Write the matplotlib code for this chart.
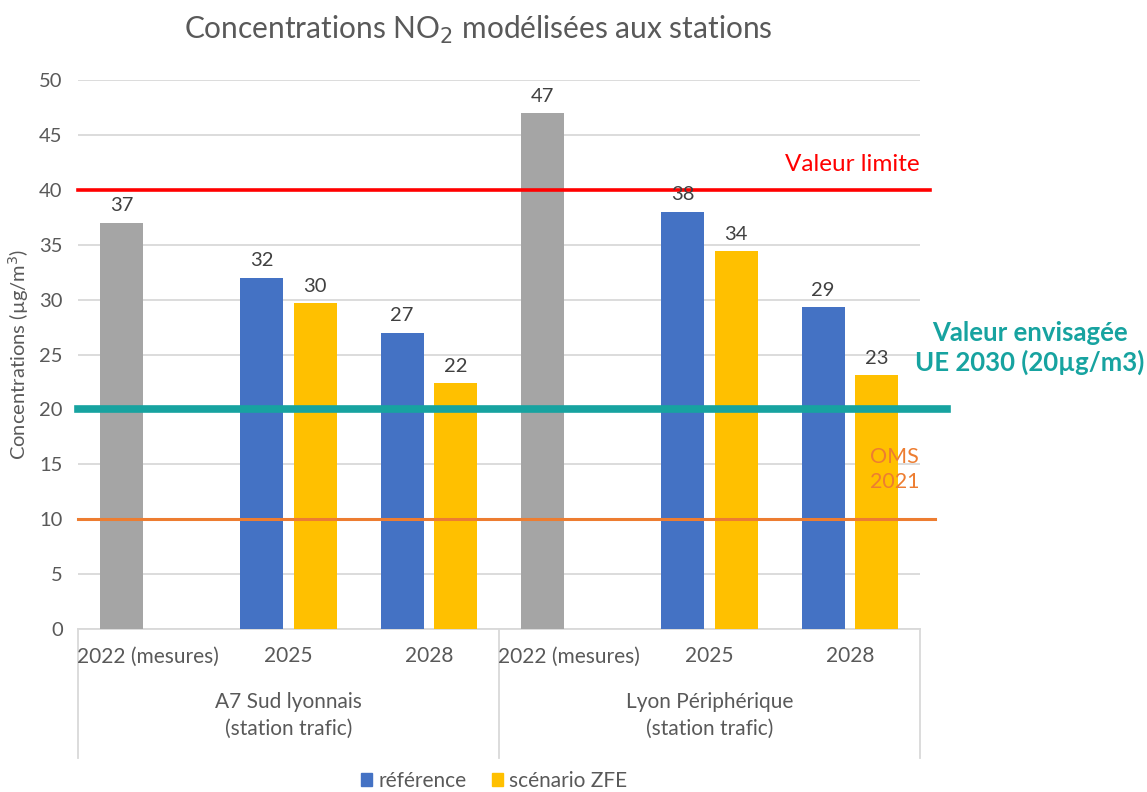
import matplotlib
matplotlib.use("Agg")
from matplotlib import pyplot as plt
from matplotlib.patches import Patch
import matplotlib.transforms as mtransforms
import numpy as np

plt.rcParams["font.family"] = ["Lato", "DejaVu Sans"]

# Category axis: years inside each station group
years = ["2022 (mesures)", "2025", "2028", "2022 (mesures)", "2025", "2028"]
stations = ["A7 Sud lyonnais\n(station trafic)", "Lyon Périphérique\n(station trafic)"]

# Reference series (the 2022 points are measurements, drawn in grey)
reference = [37, 32, 27, 47, 38, 29.3]
# ZFE scenario, no value for the measured years
scenario_zfe = [np.nan, 29.7, 22.4, np.nan, 34.4, 23.1]
measured = [True, False, False, True, False, False]

# Threshold lines
limit_value = 40
eu_2030 = 20
who_2021 = 10

BLUE = "#4472C4"
YELLOW = "#FFC000"
GREY = "#A5A5A5"
TEXT = "#595959"
RED = "#FF0000"
TEAL = "#17A3A0"
ORANGE = "#ED7D31"

W, H = 1147, 792
fig = plt.figure(figsize=(W / 100, H / 100), dpi=100)
ax = fig.add_axes([78 / W, (H - 629) / H, (920 - 78) / W, (629 - 80) / H])

x = np.arange(len(years))
width = 0.305
off = 0.19

ref_colors = [GREY if m else BLUE for m in measured]
b1 = ax.bar(x - off, reference, width, color=ref_colors, zorder=3)
b2 = ax.bar(x + off, scenario_zfe, width, color=YELLOW, zorder=3)

for bars, vals in ((b1, reference), (b2, scenario_zfe)):
    for rect, v in zip(bars, vals):
        if np.isnan(v):
            continue
        ax.annotate(f"{v:.0f}", (rect.get_x() + rect.get_width() / 2, v),
                    xytext=(0, 6), textcoords="offset points",
                    ha="center", va="bottom", fontsize=14.5, color="#404040",
                    zorder=5)

ax.set_xlim(-0.5, len(years) - 0.5)
ax.set_ylim(0, 50)
ax.set_yticks(np.arange(0, 51, 5))
ax.yaxis.grid(True, color="#D9D9D9", linewidth=1.3, zorder=0)
ax.tick_params(axis="y", length=0, labelsize=14.5, labelcolor=TEXT, pad=11)
ax.set_xticks([])
for s in ("top", "right", "left"):
    ax.spines[s].set_visible(False)
ax.spines["bottom"].set_color("#D9D9D9")
ax.spines["bottom"].set_linewidth(1.3)

ax.set_ylabel("Concentrations (µg/m$^3$)", fontsize=14.5, color=TEXT,
              labelpad=6)

# Horizontal thresholds, running a little past the plot area
px = 1 / 140.3
ax.plot([-0.5, 5.5 + 10 * px], [limit_value] * 2, color=RED, lw=2.6,
        clip_on=False, zorder=4)
ax.plot([-0.5, 5.5 + 27 * px], [eu_2030] * 2, color=TEAL, lw=5.5,
        clip_on=False, zorder=4)
ax.plot([-0.5, 5.5 + 15 * px], [who_2021] * 2, color=ORANGE, lw=2.2,
        clip_on=False, zorder=4)

ax.text(5.5, 42.3, "Valeur limite", color=RED, fontsize=17.5, ha="right",
        va="center")
ax.text(5.5 + 110 * px, 25.6, "Valeur envisagée\nUE 2030 (20µg/m3)",
        color=TEAL, fontsize=18.5, fontweight="bold", ha="center",
        va="center", linespacing=1.25, clip_on=False)
ax.text(5.32, 14.5, "OMS\n2021", color=ORANGE, fontsize=15.5, ha="center",
        va="center", linespacing=1.3, zorder=5)

# Two-level category axis
trans = mtransforms.blended_transform_factory(ax.transData, ax.transAxes)
for xi, lab in zip(x, years):
    ax.text(xi, -0.05, lab, transform=trans, ha="center", va="center",
            fontsize=15, color=TEXT)
for i, lab in enumerate(stations):
    ax.text(1 + 3 * i, -0.157, lab, transform=trans, ha="center",
            va="center", fontsize=15, color=TEXT, linespacing=1.45)
for xs in (-0.5, 2.5, 5.5):
    ax.plot([xs, xs], [0, -0.235], transform=trans, color="#D9D9D9",
            lw=1.3, clip_on=False)

fig.text(478 / W, 1 - 30 / H, "Concentrations NO$_2$ modélisées aux stations",
         ha="center", va="center", fontsize=21.5, color=TEXT)

handles = [Patch(color=BLUE, label="référence"),
           Patch(color=YELLOW, label="scénario ZFE")]
fig.legend(handles=handles, loc="center", bbox_to_anchor=(494 / W, 1 - 781 / H),
           ncol=2, frameon=False, fontsize=15, handlelength=0.55,
           handleheight=0.55, handletextpad=0.3, columnspacing=1.2,
           labelcolor=TEXT)

fig.savefig("out.png", dpi=100)
